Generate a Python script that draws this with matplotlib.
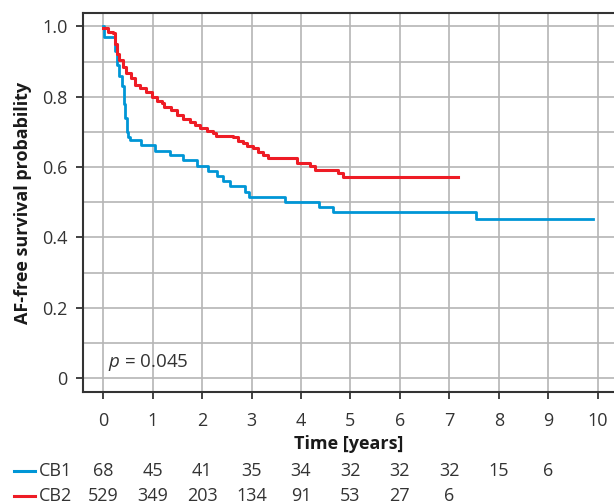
## Kaplan-Meier style AF-free survival, CB1 vs CB2, with numbers at risk
import numpy as np
import matplotlib.pyplot as plt
from matplotlib.lines import Line2D
from matplotlib.transforms import blended_transform_factory

plt.rcParams['font.family'] = ['Open Sans', 'DejaVu Sans']
plt.rcParams['mathtext.fontset'] = 'custom'
plt.rcParams['mathtext.it'] = 'Open Sans:italic'
plt.rcParams['mathtext.rm'] = 'Open Sans'
plt.rcParams['text.color'] = '#333333'
plt.rcParams['axes.labelcolor'] = '#1a1a1a'

# step curves (time in years, survival)
cb1_t = [0, 0.02, 0.23, 0.28, 0.33, 0.38, 0.42, 0.45, 0.48, 0.5, 0.54, 0.77, 1.05, 1.35, 1.62,
         1.89, 2.12, 2.30, 2.43, 2.56, 2.86, 2.95, 3.67, 4.36, 4.65, 7.53, 9.9]
cb1_s = [1.0, 0.969, 0.93, 0.89, 0.86, 0.83, 0.78, 0.74, 0.70, 0.686, 0.677, 0.662, 0.647, 0.634, 0.620,
         0.604, 0.590, 0.576, 0.560, 0.546, 0.530, 0.516, 0.500, 0.487, 0.471, 0.452, 0.452]

cb2_t = [0, 0.10, 0.20, 0.24, 0.27, 0.33, 0.40, 0.47, 0.57, 0.64, 0.74, 0.87, 0.98, 1.08, 1.18,
         1.24, 1.38, 1.49, 1.62, 1.75, 1.85, 1.95, 2.09, 2.22, 2.29, 2.63, 2.73, 2.82, 2.90,
         3.03, 3.13, 3.23, 3.33, 3.91, 4.18, 4.28, 4.75, 4.85, 7.17]
cb2_s = [0.995, 0.985, 0.98, 0.95, 0.923, 0.905, 0.886, 0.867, 0.853, 0.834, 0.824, 0.815, 0.800, 0.789, 0.781,
         0.770, 0.762, 0.748, 0.736, 0.729, 0.720, 0.710, 0.703, 0.696, 0.688, 0.685, 0.675, 0.668, 0.660,
         0.653, 0.644, 0.634, 0.625, 0.611, 0.604, 0.592, 0.582, 0.571, 0.571]

# numbers at risk
risk_years = [0, 1, 2, 3, 4, 5, 6, 7, 8, 9]
cb1_risk = [68, 45, 41, 35, 34, 32, 32, 32, 15, 6]
cb2_risk = [529, 349, 203, 134, 91, 53, 27, 6]

blue = '#0096d6'
red = '#ee1c25'
fs = 13

fig = plt.figure(figsize=(6.14, 5.04), dpi=100)
ax = fig.add_axes([0.135, 0.222, 0.865, 0.752])

ax.step(cb1_t, cb1_s, where='post', color=blue, lw=2.0, zorder=3)
ax.step(cb2_t, cb2_s, where='post', color=red, lw=2.2, zorder=4)

ax.set_xlim(-0.41, 10.33)
ax.set_ylim(-0.04, 1.038)
ax.set_xticks(np.arange(0, 11, 1))
ax.set_yticks([0, 0.2, 0.4, 0.6, 0.8, 1.0])
ax.set_yticklabels(['0', '0.2', '0.4', '0.6', '0.8', '1.0'])
ax.set_yticks(np.arange(0.1, 1.0, 0.2), minor=True)
ax.grid(True, which='both', color='#b5b5b5', lw=1.2)
ax.set_axisbelow(True)
ax.tick_params(which='major', direction='out', length=5, width=1.3, color='#333333',
               labelsize=fs, labelcolor='#333333', pad=6)
ax.tick_params(axis='x', which='major', pad=9)
ax.tick_params(which='minor', length=0)
for side in ['left', 'top', 'bottom']:
    ax.spines[side].set_color('#333333')
    ax.spines[side].set_linewidth(1.5)
ax.spines['right'].set_visible(False)

ax.set_xlabel('Time [years]', fontsize=fs, fontweight='bold', labelpad=4)
ax.set_ylabel('AF-free survival probability', fontsize=fs, fontweight='bold', labelpad=7)

ax.text(0.1, 0.045, '$p$ = 0.045', fontsize=13.5, va='center', ha='left', color='#333333')

# risk table below the axis
trans = blended_transform_factory(ax.transData, fig.transFigure)
rows = [('CB1', cb1_risk, blue, 1 - 471 / 504), ('CB2', cb2_risk, red, 1 - 496 / 504)]
for name, vals, col, yy in rows:
    fig.add_artist(Line2D([14 / 614, 35 / 614], [yy, yy], color=col, lw=2.2))
    fig.text(39 / 614, yy, name, fontsize=fs, va='center', ha='left', color='#333333')
    for yr, v in zip(risk_years, vals):
        fig.text(yr, yy, str(v), transform=trans, fontsize=fs, va='center', ha='center',
                 color='#333333')

fig.savefig('out.png', dpi=100)
